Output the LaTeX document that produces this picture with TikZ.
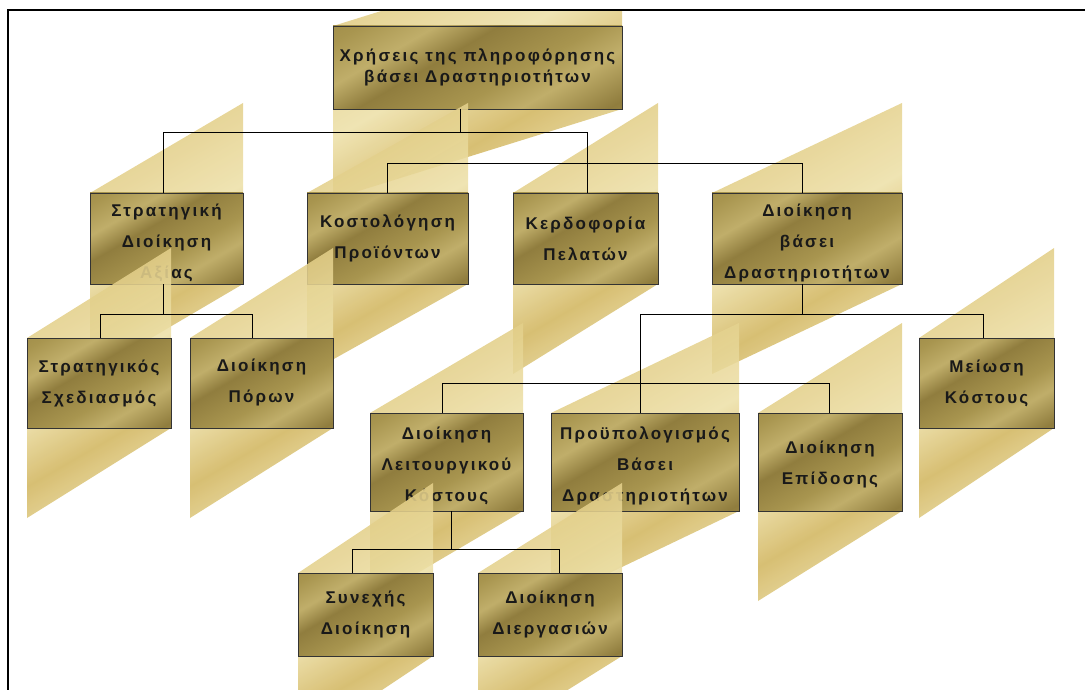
\documentclass[tikz,border=0pt]{standalone}
\usepackage{fontspec}
\setmainfont{Liberation Sans}
\newfontfamily\lblfont[LetterSpace=13]{Liberation Sans}
\definecolor{goldL}{HTML}{EDE0A8}
\definecolor{goldM}{HTML}{E2CD86}
\definecolor{goldD}{HTML}{D2B660}
\definecolor{boxD}{HTML}{907D3E}
\definecolor{boxM}{HTML}{A8954F}
\definecolor{boxL}{HTML}{C0AE6A}
\pgfdeclareverticalshading{shadowshade}{100bp}{color(0bp)=(goldL); color(22bp)=(goldL); color(38bp)=(goldD); color(52bp)=(goldL); color(70bp)=(goldM); color(82bp)=(goldD); color(100bp)=(goldL)}
\pgfdeclareverticalshading{boxshade}{100bp}{color(0bp)=(boxM); color(18bp)=(boxD); color(32bp)=(boxL); color(42bp)=(boxM); color(58bp)=(boxD); color(68bp)=(boxL); color(80bp)=(boxM); color(100bp)=(boxD)}
\tikzset{
  gshadow/.style={shading=shadowshade, shading angle=30, opacity=0.88},
  gbox/.style={shading=boxshade, shading angle=30, draw=black!80, line width=0.8pt,
    inner sep=0pt, outer sep=0pt, align=center, text=black!90,
    font=\lblfont\bfseries\fontsize{17}{31}\selectfont},
  topbox/.style={gbox, font=\lblfont\bfseries\fontsize{17}{21}\selectfont},
  conn/.style={draw=black, line width=0.8pt},
  frameline/.style={draw=black, line width=2pt}
}
\newcommand{\gboxat}[7]{%
  \shade[gshadow] ({#3},{#4}) -- ({#5},{#4-90}) -- ({#5},{#6}) -- ({#3},{#6+90}) -- cycle;
  \pgfmathsetmacro\bw{#5-#3}\pgfmathsetmacro\bh{#6-#4}%
  \node[#1, minimum width=\bw pt, minimum height=\bh pt] (#2) at ({(#3+#5)/2},{(#4+#6)/2}) {#7};
}
\begin{document}
\begin{tikzpicture}[x=1pt,y=-1pt]
\useasboundingbox (0,0) rectangle (1085,690);
\begin{scope}
\clip (9,11) rectangle (1085,690);
\gboxat{topbox}{n1}{333}{26}{622}{109}{Χρήσεις της πληροφόρησης\\βάσει Δραστηριοτήτων}
\gboxat{gbox}{n2}{90}{193}{243}{284}{\rule{0pt}{21pt}Στρατηγική\\Διοίκηση\\Αξίας}
\gboxat{gbox}{n3}{307}{193}{468}{284}{Κοστολόγηση\\Προϊόντων}
\gboxat{gbox}{n4}{513}{193}{658}{284}{Κερδοφορία\\Πελατών}
\gboxat{gbox}{n5}{712}{193}{902}{284}{\rule{0pt}{21pt}Διοίκηση\\βάσει\\Δραστηριοτήτων}
\gboxat{gbox}{n6}{27}{338}{171}{428}{Στρατηγικός\\Σχεδιασμός}
\gboxat{gbox}{n7}{190}{338}{333}{428}{Διοίκηση\\Πόρων}
\gboxat{gbox}{n8}{919}{338}{1054}{428}{Μείωση\\Κόστους}
\gboxat{gbox}{n9}{370}{413}{523}{511}{\rule{0pt}{21pt}Διοίκηση\\Λειτουργικού\\Κόστους}
\gboxat{gbox}{n10}{551}{413}{739}{511}{\rule{0pt}{21pt}Προϋπολογισμός\\Βάσει\\Δραστηριοτήτων}
\gboxat{gbox}{n11}{758}{413}{902}{511}{\rule{0pt}{17pt}Διοίκηση\\Επίδοσης}
\gboxat{gbox}{n12}{298}{573}{433}{656}{Συνεχής\\Διοίκηση}
\gboxat{gbox}{n13}{478}{573}{622}{656}{Διοίκηση\\Διεργασιών}
\end{scope}
% bus levels
\coordinate (h1) at (0,132);
\coordinate (h2) at (0,163);
\coordinate (h3) at (0,314);
\coordinate (h5) at (0,383);
\coordinate (h6) at (0,549);
% bus 1
\coordinate (p1) at ([xshift=-17.5pt]n1.south);
\coordinate (c2) at ([xshift=-3.5pt]n2.north);
\coordinate (c4) at ([xshift=1.5pt]n4.north);
\draw[conn] (p1) -- (p1 |- h1);
\draw[conn] (c2) -- (c2 |- h1) -- (c4 |- h1) -- (c4);
% bus 2
\coordinate (c3) at (n3.north);
\coordinate (c5) at ([xshift=-5pt]n5.north);
\draw[conn] (c3) -- (c3 |- h2) -- (c5 |- h2) -- (c5);
% bus 3
\coordinate (p2) at ([xshift=-3.5pt]n2.south);
\coordinate (c6) at ([xshift=1pt]n6.north);
\coordinate (c7) at ([xshift=-9.5pt]n7.north);
\draw[conn] (p2) -- (p2 |- h3);
\draw[conn] (c6) -- (c6 |- h3) -- (c7 |- h3) -- (c7);
% bus 4
\coordinate (p5) at ([xshift=-5pt]n5.south);
\coordinate (c10) at ([xshift=-5pt]n10.north);
\coordinate (c8) at ([xshift=-3.5pt]n8.north);
\draw[conn] (p5) -- (p5 |- h3);
\draw[conn] (c10) -- (c10 |- h3) -- (c8 |- h3) -- (c8);
% bus 5
\coordinate (c9) at ([xshift=-4.5pt]n9.north);
\coordinate (c11) at ([xshift=-1pt]n11.north);
\draw[conn] (c9) -- (c9 |- h5) -- (c11 |- h5) -- (c11);
% bus 6
\coordinate (p9) at ([xshift=4.5pt]n9.south);
\coordinate (c12) at ([xshift=-13.5pt]n12.north);
\coordinate (c13) at ([xshift=9pt]n13.north);
\draw[conn] (p9) -- (p9 |- h6);
\draw[conn] (c12) -- (c12 |- h6) -- (c13 |- h6) -- (c13);
% frame
\coordinate (fb) at (8,690);
\coordinate (fc) at (8,10);
\coordinate (fr) at (1085,10);
\draw[frameline] (fb) -- (fc) -- (fr);
\end{tikzpicture}
\end{document}
